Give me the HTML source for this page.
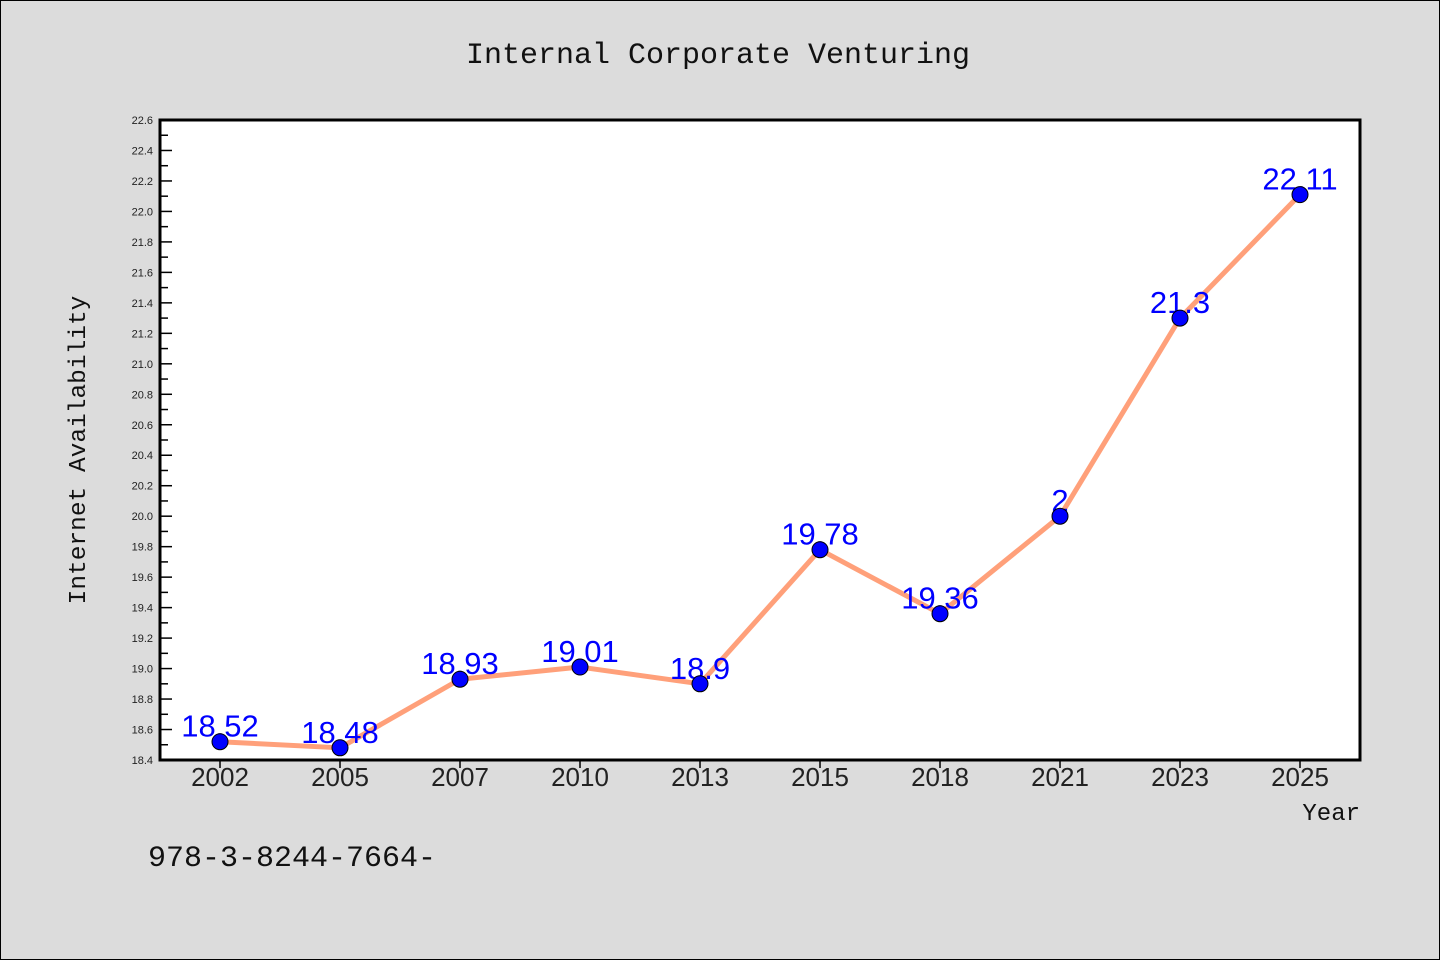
<!DOCTYPE html>
<html><head><meta charset="utf-8"><style>
html,body{margin:0;padding:0;background:#dcdcdc}
svg{display:block}
text{font-family:"Liberation Sans",sans-serif}
.mono{font-family:"Liberation Mono",monospace}
</style></head><body>
<svg id="c" width="1440" height="960">
<rect x="0.5" y="0.5" width="1439" height="959" fill="#dcdcdc" stroke="#000"/>
<text class="mono" x="718" y="63" font-size="30" text-anchor="middle" fill="#111">Internal Corporate Venturing</text>
<rect x="160" y="120" width="1200" height="640" fill="#fff"/>
<g id="ticks"></g>
<g id="series"></g>
<rect x="160" y="120" width="1200" height="640" fill="none" stroke="#000" stroke-width="3"/>
<text class="mono" transform="translate(85,450) rotate(-90)" font-size="24.5" text-anchor="middle" fill="#111">Internet Availability</text>
<text class="mono" x="1360" y="820" font-size="24" text-anchor="end" fill="#111">Year</text>
<text class="mono" x="148" y="866" font-size="30" fill="#111">978-3-8244-7664-</text>
</svg>
<script>
const categories=["2002","2005","2007","2010","2013","2015","2018","2021","2023","2025"];
const values=[18.52,18.48,18.93,19.01,18.9,19.78,19.36,20,21.3,22.11];
const valueLabels=["18.52","18.48","18.93","19.01","18.9","19.78","19.36","2","21.3","22.11"];
const yTicks=[18.4,18.6,18.8,19.0,19.2,19.4,19.6,19.8,20.0,20.2,20.4,20.6,20.8,21.0,21.2,21.4,21.6,21.8,22.0,22.2,22.4,22.6];
const L=160,T=120,W=1200,H=640,yMin=18.4,yMax=22.6;
const NS="http://www.w3.org/2000/svg";
const x=i=>L+W/categories.length*(i+0.5);
const y=v=>T+H-(v-yMin)/(yMax-yMin)*H;
function mk(t,a,p){const e=document.createElementNS(NS,t);for(const k in a)e.setAttribute(k,a[k]);p.appendChild(e);return e;}
const tg=document.getElementById('ticks'),sg=document.getElementById('series');
yTicks.forEach((v,i)=>{
 const l=mk('line',{x1:L,x2:L+12,y1:y(v),y2:y(v),stroke:'#000','stroke-width':1.5},tg);
 
 
 if(i<yTicks.length-1){const m=mk('line',{x1:L,x2:L+8,y1:y(v+0.1),y2:y(v+0.1),stroke:'#000','stroke-width':1.5},tg);
 
 }
 const t=mk('text',{x:L-7,y:y(v)+4,'font-size':11,'text-anchor':'end',fill:'#222'},tg);t.textContent=v.toFixed(1);
 
 
});
categories.forEach((c,i)=>{
 const l=mk('line',{x1:x(i),x2:x(i),y1:T+H,y2:T+H+8,stroke:'#000','stroke-width':1.5},tg);
 
 
 const t=mk('text',{x:x(i),y:T+H+26,'font-size':26,'text-anchor':'middle',fill:'#222'},tg);t.textContent=c;
 
 
});
const pl=mk('polyline',{points:values.map((v,i)=>x(i)+','+y(v)).join(' '),fill:'none',stroke:'#ffa07a','stroke-width':5,'stroke-linejoin':'round'},sg);


values.forEach((v,i)=>{
 const t=mk('text',{x:x(i),y:y(v)-5,'font-size':31,'text-anchor':'middle',fill:'#0000ff'},sg);t.textContent=valueLabels[i];
 
 
});
values.forEach((v,i)=>{
 const c=mk('circle',{cx:x(i),cy:y(v),r:8,fill:'#0000ff',stroke:'#000','stroke-width':1},sg);
 
 
});
</script>
</body></html>
